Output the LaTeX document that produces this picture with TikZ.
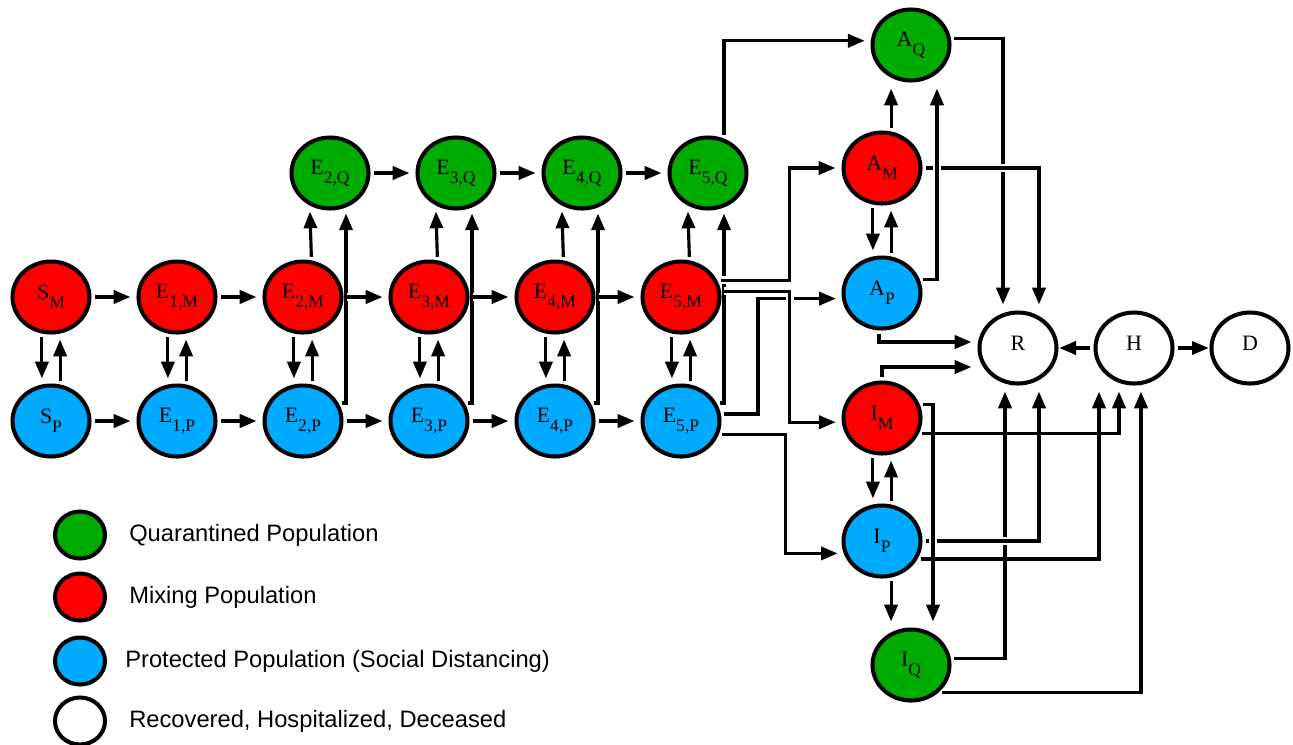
\documentclass[tikz,border=0pt]{standalone}
\usepackage{fontspec}
\setmainfont{Liberation Serif}
\newfontfamily\legendfont{Liberation Sans}
\usepackage{tkz-graph}
\usetikzlibrary{shapes.geometric,arrows.meta,positioning}
\definecolor{qgreen}{RGB}{0,172,0}
\definecolor{mred}{RGB}{255,0,0}
\definecolor{pblue}{RGB}{0,170,255}
\newcommand{\comp}[2]{{\fontsize{12.5}{12.5}\selectfont #1}\raisebox{-5pt}{\fontsize{10}{10}\selectfont #2}}

\begin{document}
\begin{tikzpicture}[font=\fontsize{12}{12}\selectfont]
	\useasboundingbox (0,0) rectangle (25.86,-14.88);
	\SetUpEdge[lw = 1.8pt, color = black]
	\GraphInit[vstyle=Normal]
	\SetGraphUnit{2.52}
	\tikzset{VertexStyle/.style={ellipse, draw, line width=2.3pt, minimum width=1.54cm,
		minimum height=1.42cm, inner sep=0pt, outer sep=1.1pt, font=\fontsize{12}{12}\selectfont}}
	\tikzset{flow/.style={line width=1.8pt, -{Stealth[inset=0pt,length=9.5pt,width=7.5pt]},
		shorten <=2pt, shorten >=3.5pt},
		bridge/.style={preaction={draw, white, line width=4.5pt, -}},
		legend/.style={font=\legendfont\fontsize{13.5}{13.5}\selectfont, inner sep=0pt}}
	\tikzset{VertexStyle/.append style={fill=mred}}
	\Vertex[x=1.02,y=-5.94,L={\comp{S}{M}}]{SM}
	\EA[L={\comp{E}{1,M}}](SM){E1M}
	\EA[L={\comp{E}{2,M}}](E1M){E2M}
	\EA[L={\comp{E}{3,M}}](E2M){E3M}
	\EA[L={\comp{E}{4,M}}](E3M){E4M}
	\EA[L={\comp{E}{5,M}}](E4M){E5M}
	\Vertex[x=17.64,y=-3.36,L={\comp{A}{M}}]{AM}
	\Vertex[x=17.64,y=-8.36,L={\comp{I}{M}}]{IM}
	\tikzset{VertexStyle/.append style={fill=pblue}}
	\SO[unit=2.48,L={\comp{S}{P}}](SM){SP}
	\EA[L={\comp{E}{1,P}}](SP){E1P}
	\EA[L={\comp{E}{2,P}}](E1P){E2P}
	\EA[L={\comp{E}{3,P}}](E2P){E3P}
	\EA[L={\comp{E}{4,P}}](E3P){E4P}
	\EA[L={\comp{E}{5,P}}](E4P){E5P}
	\SO[unit=2.5,L={\comp{A}{P}}](AM){AP}
	\SO[unit=2.46,L={\comp{I}{P}}](IM){IP}
	\tikzset{VertexStyle/.append style={fill=qgreen}}
	\Vertex[x=6.60,y=-3.46,L={\comp{E}{2,Q}}]{E2Q}
	\EA[L={\comp{E}{3,Q}}](E2Q){E3Q}
	\EA[L={\comp{E}{4,Q}}](E3Q){E4Q}
	\EA[L={\comp{E}{5,Q}}](E4Q){E5Q}
	\Vertex[x=18.22,y=-0.90,L={\comp{A}{Q}}]{AQ}
	\Vertex[x=18.22,y=-13.30,L={\comp{I}{Q}}]{IQ}
	\tikzset{VertexStyle/.append style={fill=white}}
	\Vertex[x=20.36,y=-6.96,L={\comp{R}{}}]{R}
	\EA[unit=2.32,L={\comp{H}{}}](R){H}
	\EA[unit=2.32,L={\comp{D}{}}](H){D}
	% legend
	\tikzset{VertexStyle/.append style={minimum width=1.0cm, minimum height=0.94cm, fill=qgreen}}
	\Vertex[x=1.60,y=-10.70,NoLabel]{LQ}
	\tikzset{VertexStyle/.append style={fill=mred}}
	\Vertex[x=1.60,y=-11.94,NoLabel]{LM}
	\tikzset{VertexStyle/.append style={fill=pblue}}
	\Vertex[x=1.60,y=-13.22,NoLabel]{LP}
	\tikzset{VertexStyle/.append style={fill=white}}
	\Vertex[x=1.60,y=-14.42,NoLabel]{LR}
	\node[legend, right=0.44cm of LQ] (tQ) {Quarantined Population};
	\node[legend, right=0.44cm of LM] (tM) {Mixing Population};
	\node[legend, right=0.36cm of LP] (tP) {Protected Population (Social Distancing)};
	\node[legend, right=0.44cm of LR] (tR) {Recovered, Hospitalized, Deceased};
	% mixing <-> protected
	\draw[flow] (SM.-104) -- (SP.104);
	\draw[flow] (SP.76) -- (SM.-76);
	\draw[flow] (E1M.-104) -- (E1P.104);
	\draw[flow] (E1P.76) -- (E1M.-76);
	\draw[flow] (E2M.-104) -- (E2P.104);
	\draw[flow] (E2P.76) -- (E2M.-76);
	\draw[flow] (E3M.-104) -- (E3P.104);
	\draw[flow] (E3P.76) -- (E3M.-76);
	\draw[flow] (E4M.-104) -- (E4P.104);
	\draw[flow] (E4P.76) -- (E4M.-76);
	\draw[flow] (E5M.-104) -- (E5P.104);
	\draw[flow] (E5P.76) -- (E5M.-76);
	% to quarantine
	\draw[flow] (E2M.77) -- (E2Q.-122);
	\draw[flow] (E3M.77) -- (E3Q.-122);
	\draw[flow] (E4M.77) -- (E4Q.-122);
	\draw[flow] (E5M.77) -- (E5Q.-122);
	\draw[flow] (E2P.27) -| (E2Q.-65);
	\draw[flow] (E3P.27) -| (E3Q.-65);
	\draw[flow] (E4P.27) -| (E4Q.-65);
	\draw[flow] (E5P.27) -| (E5Q.-65);
	% rows
	\tikzset{EdgeStyle/.style={flow}}
	\Edge(E2Q)(E3Q)
	\Edge(E3Q)(E4Q)
	\Edge(E4Q)(E5Q)
	\Edge(SP)(E1P)
	\Edge(E1P)(E2P)
	\Edge(E2P)(E3P)
	\Edge(E3P)(E4P)
	\Edge(E4P)(E5P)
	\tikzset{EdgeStyle/.style={flow, bridge}}
	\Edge(SM)(E1M)
	\Edge(E1M)(E2M)
	\Edge(E2M)(E3M)
	\Edge(E3M)(E4M)
	\Edge(E4M)(E5M)
	% out of E5
	\draw[flow] (E5P.10) -| ([xshift=-1.68cm]AP.188) -- (AP.188);
	\draw[flow] (E5P.-20) -| ([xshift=-1.16cm]IP.198) -- (IP.198);
	\draw[flow, bridge] (E5M.8) -| ([xshift=-1.04cm]IM.186) -- (IM.186);
	\draw[flow, bridge] (E5M.25) -| ([xshift=-1.04cm]AM.west) -- (AM.west);
	\draw[flow] (E5Q.65) |- (AQ.174);
	% asymptomatic
	\draw[flow] (AM.76) -- (AM.76 |- AQ.south);
	\draw[flow] (AM.-104) -- (AP.104);
	\draw[flow] (AP.76) -- (AM.-76);
	\draw[flow] (AQ.9) -| ([xshift=-0.30cm]R.north);
	\draw[flow, bridge] (AM.east) -| ([xshift=0.42cm]R.north);
	\draw[flow, bridge] (AP.20) -| ([xshift=0.52cm]AQ.south);
	\draw[flow] ([xshift=-0.06cm]AP.south) |- ([yshift=0.12cm]R.west);
	\draw[flow] (IM.north) |- ([yshift=-0.38cm]R.west);
	% symptomatic
	\draw[flow] (IQ.9) -| ([xshift=-0.26cm]R.south);
	\draw[flow, bridge] (IP.east) -| ([xshift=0.42cm]R.south);
	\draw[flow, bridge] (IM.20) -| ([xshift=0.44cm]IQ.north);
	\draw[flow] (IM.-23) -| ([xshift=-0.30cm]H.south);
	\draw[flow] (IP.-27) -| ([xshift=-0.70cm]H.south);
	\draw[flow] (IQ.-45) -| ([xshift=0.14cm]H.south);
	\draw[flow] (IP.-76) -- (IP.-76 |- IQ.north);
	\draw[flow] (IM.-104) -- (IP.104);
	\draw[flow] (IP.76) -- (IM.-76);
	\tikzset{EdgeStyle/.style={flow, shorten >=0.5pt}}
	\Edge(H)(R)
	\Edge(H)(D)
\end{tikzpicture}
\end{document}
